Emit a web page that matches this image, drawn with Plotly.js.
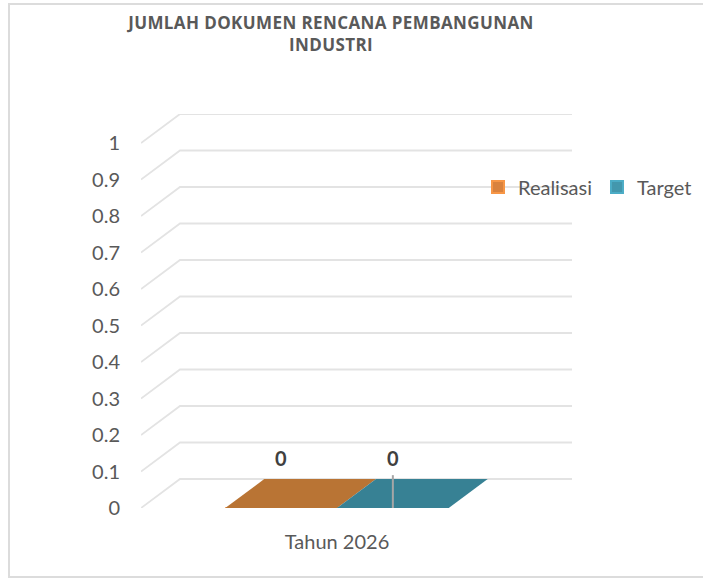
<!DOCTYPE html>
<html>
<head>
<meta charset="utf-8">
<script src="https://cdn.plot.ly/plotly-3.0.1.min.js"></script>
<style>
  html, body { margin: 0; padding: 0; overflow: hidden; background: #fff; }
  #wrap { position: relative; width: 703px; height: 581px; }
  #chart { width: 703px; height: 581px; }
  #frame { position: absolute; left: 8px; top: 3px; width: 720px; height: 571px;
           border: 2px solid #dcdcdc; pointer-events: none; }
  .gtitle { letter-spacing: 0.4px; }
</style>
</head>
<body>
<div id="wrap">
  <div id="chart"></div>
  <div id="frame"></div>
</div>
<script>
// ---- data ----
var chartTitle = "JUMLAH DOKUMEN RENCANA PEMBANGUNAN<br>INDUSTRI";
var categories = ["Tahun 2026"];
var seriesNames = ["Realisasi", "Target"];
var realisasi = [0];
var target = [0];
var yTicks = [0, 0.1, 0.2, 0.3, 0.4, 0.5, 0.6, 0.7, 0.8, 0.9, 1];

// ---- styling / geometry ----
var W = 703, H = 581;
var plotL = 141, plotR = 572, plotT = 114, plotB = 508;
var depthX = 39, depthY = 29;          // 3D depth offset in pixels
var floorW = 392;                      // front floor width (px) for one category
var yUnit = 365;                       // px per 1.0 on value axis
var dx = depthX / floorW;              // depth in data units
var dy = depthY / yUnit;
var xRange = [-0.5, -0.5 + (plotR - plotL) / floorW];
var yRange = [0, yTicks[yTicks.length - 1] + dy];
var groupWidth = 0.57;
var barW = groupWidth / seriesNames.length;

var legendColors = ["#F79646", "#4BACC6"];
var topColors = ["#B97434", "#378194"];
var sideColors = ["#8E5726", "#2A6272"];
var frontColors = ["#D9823E", "#4397AD"];
var gridColor = "#e3e3e3";
var textColor = "#595959";

var seriesValues = [realisasi, target];
var traces = [];

// gridlines (back wall + floor diagonal)
var gx = [], gy = [];
yTicks.forEach(function (v) {
  gx.push(xRange[0], xRange[0] + dx, xRange[1], null);
  gy.push(v, v + dy, v + dy, null);
});
traces.push({
  type: "scatter", mode: "lines", x: gx, y: gy, hoverinfo: "skip",
  line: { color: gridColor, width: 1.8 }, showlegend: false
});

var annotations = [];
var shapes = [];

seriesValues.forEach(function (vals, s) {
  var offset = -groupWidth / 2 + barW * s;
  vals.forEach(function (v, i) {
    var xl = i + offset, xr = xl + barW;
    // right side face
    traces.push({
      type: "scatter", mode: "none", fill: "toself", fillcolor: sideColors[s],
      x: [xr, xr, xr + dx, xr + dx, xr], y: [0, v, v + dy, dy, 0],
      hoverinfo: "skip", showlegend: false
    });
    // top face
    traces.push({
      type: "scatter", mode: "none", fill: "toself", fillcolor: topColors[s],
      x: [xl, xr, xr + dx, xl + dx, xl], y: [v, v, v + dy, v + dy, v],
      hoverinfo: "skip", showlegend: false
    });
    annotations.push({
      x: (xl + xr) / 2, y: v, xref: "x", yref: "y", text: String(v),
      showarrow: false, yshift: 50,
      font: { family: "Lato", size: 20, color: "#404040", weight: "bold" }
    });
  });
});

// front faces as bars (also give legend entries)
seriesValues.forEach(function (vals, s) {
  traces.push({
    type: "bar", name: seriesNames[s],
    x: vals.map(function (v, i) { return i; }), y: vals,
    width: barW, offset: -groupWidth / 2 + barW * s,
    marker: { color: frontColors[s], line: { color: legendColors[s], width: 2 } },
    hoverinfo: "skip"
  });
});

// thin leader line at target label
shapes.push({
  type: "line", xref: "x", yref: "y",
  x0: -groupWidth / 2 + barW * 1.5, x1: -groupWidth / 2 + barW * 1.5,
  y0: target[0], y1: target[0] + 0.09,
  line: { color: "#a6a6a6", width: 2 }
});

var layout = {
  width: W, height: H,
  margin: { l: plotL, r: W - plotR, t: plotT, b: H - plotB, pad: 0, autoexpand: false },
  paper_bgcolor: "#fff", plot_bgcolor: "rgba(0,0,0,0)",
  font: { family: "Lato", color: textColor, size: 20 },
  title: {
    text: chartTitle, xref: "container", x: 331 / W, xanchor: "center",
    yref: "container", y: 1 - 29 / H, yanchor: "middle",
    font: { family: "Open Sans", size: 17, color: textColor, weight: "bold" }
  },
  showlegend: true,
  legend: {
    orientation: "h", xref: "paper", yref: "paper",
    x: (478 - plotL) / (plotR - plotL), xanchor: "left",
    y: (plotB - 187) / (plotB - plotT), yanchor: "middle",
    font: { family: "Lato", size: 20, color: textColor },
    itemclick: false, itemdoubleclick: false, traceorder: "normal",
    bgcolor: "rgba(0,0,0,0)"
  },
  xaxis: {
    range: xRange, showgrid: false, zeroline: false, showline: false,
    tickmode: "array", tickvals: categories.map(function (c, i) { return i; }),
    ticktext: categories, ticks: "", ticklabelstandoff: 20,
    tickfont: { family: "Lato", size: 20, color: textColor }, fixedrange: true
  },
  yaxis: {
    range: yRange, showgrid: false, zeroline: false, showline: false,
    tickmode: "array", tickvals: yTicks, ticktext: yTicks.map(String),
    ticks: "", ticklabelstandoff: 20,
    tickfont: { family: "Lato", size: 20, color: textColor }, fixedrange: true
  },
  bargap: 0, barmode: "overlay",
  annotations: annotations, shapes: shapes
};

Plotly.newPlot("chart", traces, layout, { displayModeBar: false, staticPlot: true });
</script>
</body>
</html>
